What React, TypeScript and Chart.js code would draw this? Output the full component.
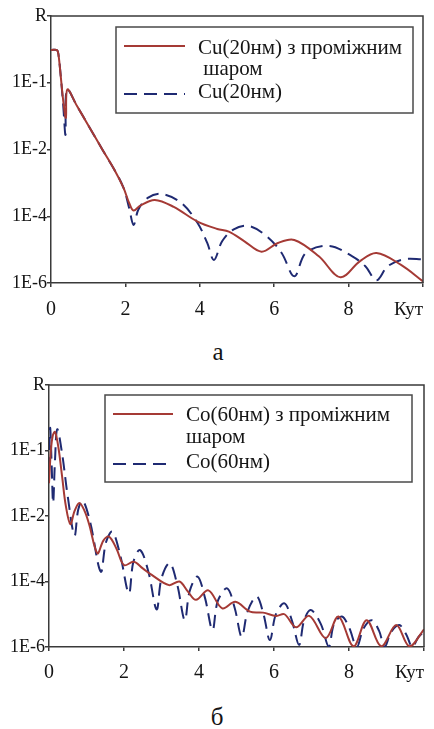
import React, { useEffect, useRef } from "react";
import { Chart, registerables } from "chart.js";

Chart.register(...registerables);

// ---------- DATA (angle in degrees, reflectivity as decade index) ----------
const cuLayerAngle = [0, 0.16, 0.2, 0.27, 0.33, 0.4, 0.44, 0.7, 1.0, 1.38, 1.7, 1.95, 2.1, 2.22, 2.4, 2.79, 3.3, 3.94, 4.47, 4.78, 5.2, 5.66, 6.1, 6.54, 7.2, 7.78, 8.3, 8.75, 9.4, 10];
const cuLayerLogR = [0.98, 0.98, 0.85, 0.1, -0.55, -1.05, -0.2, -0.7, -1.27, -2.0, -2.6, -3.15, -3.6, -3.83, -3.68, -3.51, -3.72, -4.16, -4.38, -4.46, -4.75, -5.06, -4.8, -4.71, -5.2, -5.83, -5.35, -5.1, -5.45, -5.95];

const cuAngle = [0, 0.16, 0.2, 0.27, 0.33, 0.39, 0.43, 0.7, 1.0, 1.38, 1.7, 1.95, 2.1, 2.22, 2.35, 2.6, 2.97, 3.5, 3.94, 4.2, 4.38, 4.6, 4.9, 5.31, 5.8, 6.2, 6.54, 6.85, 7.47, 8.1, 8.45, 8.75, 9.05, 9.5, 10];
const cuLogR = [0.98, 0.98, 0.85, 0.1, -0.7, -1.56, -0.2, -0.7, -1.27, -2.0, -2.6, -3.15, -3.75, -4.26, -3.8, -3.45, -3.33, -3.6, -4.2, -4.8, -5.31, -4.75, -4.4, -4.29, -4.6, -5.1, -5.8, -5.1, -4.89, -5.2, -5.5, -5.92, -5.5, -5.29, -5.29];

const coLayerAngle = [0, 0.05, 0.1, 0.16, 0.25, 0.35, 0.45, 0.57, 0.68, 0.81, 0.95, 1.07, 1.29, 1.45, 1.6, 1.8, 2.0, 2.26, 2.5, 2.74, 3.2, 3.48, 3.7, 3.92, 4.25, 4.62, 4.97, 5.36, 5.71, 6.06, 6.28, 6.59, 6.94, 7.38, 7.72, 8.12, 8.47, 8.86, 9.26, 9.61, 10];
const coLayerLogR = [-1.0, 0.0, 0.45, 0.57, 0.1, -0.8, -1.7, -2.25, -1.85, -1.6, -1.85, -2.25, -3.14, -2.75, -2.63, -3.0, -3.5, -3.4, -3.6, -3.8, -4.11, -4.0, -4.3, -4.56, -4.27, -4.82, -4.62, -4.92, -4.95, -5.05, -5.0, -5.4, -5.05, -5.73, -5.07, -5.98, -5.18, -5.98, -5.33, -5.98, -5.46];

const coAngle = [0, 0.03, 0.07, 0.11, 0.16, 0.22, 0.35, 0.5, 0.68, 0.78, 0.9, 1.1, 1.38, 1.52, 1.69, 1.9, 2.13, 2.25, 2.43, 2.65, 2.87, 3.0, 3.22, 3.42, 3.62, 3.75, 3.96, 4.16, 4.36, 4.5, 4.75, 4.95, 5.14, 5.3, 5.54, 5.72, 5.89, 6.05, 6.28, 6.48, 6.67, 6.8, 6.98, 7.25, 7.46, 7.6, 7.81, 8.0, 8.21, 8.38, 8.6, 8.8, 8.95, 9.12, 9.34, 9.52, 9.69, 9.85, 10];
const coLogR = [-0.6, 0.69, -0.4, -1.6, -0.3, 0.65, -0.1, -1.4, -2.6, -1.8, -1.53, -2.2, -3.7, -2.8, -2.48, -3.2, -4.36, -3.4, -3.04, -3.7, -4.85, -3.9, -3.44, -4.1, -5.18, -4.3, -3.85, -4.5, -5.48, -4.6, -4.21, -4.8, -5.69, -4.9, -4.46, -5.0, -5.79, -5.0, -4.67, -5.2, -5.94, -5.2, -4.87, -5.3, -5.99, -5.3, -5.07, -5.4, -6.0, -5.45, -5.18, -5.5, -6.0, -5.55, -5.33, -5.6, -6.0, -5.7, -5.53];

const yTickValues = [2, 0, -2, -4, -6];
const yTickLabels = ["R", "1E-1", "1E-2", "1E-4", "1E-6"];
const xAxisLabel = "Кут";

const cuLabels = ["Cu(20нм) з проміжним\n шаром", "Cu(20нм)"];
const coLabels = ["Co(60нм) з проміжним\nшаром", "Co(60нм)"];
const captions = ["а", "б"];

// ---------- STYLE ----------
const SERIF = "'Liberation Serif', 'Times New Roman', serif";
const RED = "#a53a35";
const BLUE = "#1f2a72";
const AXIS = "#3a3a3a";
const TEXT = "#151515";

const toPoints = (xs: number[], ys: number[]) => xs.map((x, i) => ({ x, y: ys[i] }));

const framePlugin = {
  id: "frameBox",
  afterDraw(chart: any) {
    const { ctx, chartArea } = chart;
    ctx.save();
    ctx.strokeStyle = AXIS;
    ctx.lineWidth = 1.5;
    ctx.beginPath();
    ctx.moveTo(chartArea.left, chartArea.top);
    ctx.lineTo(chartArea.right, chartArea.top);
    ctx.lineTo(chartArea.right, chartArea.bottom);
    ctx.stroke();
    ctx.restore();
  },
};

const boxLegendPlugin = {
  id: "boxLegend",
  afterDraw(chart: any, _args: any, opts: any) {
    const ctx = chart.ctx;
    ctx.save();
    ctx.fillStyle = "#ffffff";
    ctx.fillRect(opts.x, opts.y, opts.w, opts.h);
    ctx.strokeStyle = "#4a4a4a";
    ctx.lineWidth = 1.5;
    ctx.strokeRect(opts.x, opts.y, opts.w, opts.h);
    chart.data.datasets.forEach((ds: any, i: number) => {
      const sampleY = opts.sampleYs[i];
      const textY = opts.textYs[i];
      ctx.beginPath();
      ctx.strokeStyle = ds.borderColor;
      ctx.lineWidth = ds.borderWidth;
      ctx.setLineDash(ds.borderDash || []);
      ctx.moveTo(opts.sampleX1, sampleY);
      ctx.lineTo(opts.sampleX2, sampleY);
      ctx.stroke();
      ctx.setLineDash([]);
      ctx.fillStyle = TEXT;
      ctx.font = `${opts.fontSize}px ${SERIF}`;
      ctx.textBaseline = "middle";
      ctx.textAlign = "left";
      String(ds.label)
        .split("\n")
        .forEach((line: string, k: number) => ctx.fillText(line, opts.textX, textY + k * opts.lineHeight));
    });
    ctx.restore();
  },
};

function makeConfig(p: {
  layerX: number[]; layerY: number[]; plainX: number[]; plainY: number[]; labels: string[];
  padTop: number; padRight: number; yWidth: number; xHeight: number; xTickPad: number; titlePad: number; legend: any;
}): any {
  return {
    type: "line",
    data: {
      datasets: [
        { label: p.labels[0], data: toPoints(p.layerX, p.layerY), borderColor: RED, borderWidth: 2, pointRadius: 0, tension: 0.35, fill: false },
        { label: p.labels[1], data: toPoints(p.plainX, p.plainY), borderColor: BLUE, borderWidth: 2, borderDash: [13, 7], pointRadius: 0, tension: 0.35, fill: false },
      ],
    },
    options: {
      responsive: false,
      devicePixelRatio: 1,
      animation: false,
      layout: { padding: { top: p.padTop, right: p.padRight, left: 0, bottom: 0 } },
      plugins: { legend: { display: false }, tooltip: { enabled: false }, boxLegend: p.legend },
      scales: {
        x: {
          type: "linear",
          min: 0,
          max: 10,
          ticks: {
            stepSize: 2,
            autoSkip: false,
            maxRotation: 0,
            padding: p.xTickPad,
            color: TEXT,
            font: { family: SERIF, size: 20 },
            callback: (v: number) => (v === 10 ? "" : String(v)),
          },
          grid: { drawOnChartArea: false, drawTicks: true, tickLength: 4, color: AXIS, lineWidth: 1.5 },
          border: { display: true, color: AXIS, width: 1.5 },
          title: { display: true, text: xAxisLabel, align: "end", color: TEXT, font: { family: SERIF, size: 19 }, padding: { top: 0, bottom: p.titlePad } },
          afterFit: (s: any) => { s.height = p.xHeight; },
        },
        y: {
          type: "linear",
          min: -6,
          max: 2,
          ticks: {
            stepSize: 2,
            padding: 0,
            color: TEXT,
            font: { family: SERIF, size: 18 },
            callback: (v: number) => {
              const i = yTickValues.indexOf(v);
              return i >= 0 ? yTickLabels[i] : "";
            },
          },
          grid: { drawOnChartArea: false, drawTicks: true, tickLength: 4, color: AXIS, lineWidth: 1.5 },
          border: { display: true, color: AXIS, width: 1.5 },
          afterFit: (s: any) => { s.width = p.yWidth; },
        },
      },
    },
    plugins: [framePlugin, boxLegendPlugin],
  };
}

function ChartCanvas({ config, top, height }: { config: () => any; top: number; height: number }) {
  const ref = useRef<HTMLCanvasElement>(null);
  useEffect(() => {
    const chart = new Chart(ref.current as HTMLCanvasElement, config());
    return () => chart.destroy();
  }, []);
  return (
    <canvas
      ref={ref}
      width={434}
      height={height}
      style={{ position: "absolute", left: 0, top, width: 434, height, display: "block" }}
    />
  );
}

const cuConfig = () =>
  makeConfig({
    layerX: cuLayerAngle, layerY: cuLayerLogR, plainX: cuAngle, plainY: cuLogR, labels: cuLabels,
    padTop: 16, padRight: 5, yWidth: 51, xHeight: 47, xTickPad: 11, titlePad: 8.6,
    legend: { x: 116, y: 27, w: 297, h: 86, sampleX1: 124, sampleX2: 185, textX: 198, sampleYs: [46, 94], textYs: [48, 92], lineHeight: 21, fontSize: 21 },
  });

const coConfig = () =>
  makeConfig({
    layerX: coLayerAngle, layerY: coLayerLogR, plainX: coAngle, plainY: coLogR, labels: coLabels,
    padTop: 15, padRight: 4, yWidth: 49, xHeight: 53, xTickPad: 10, titlePad: 15.6,
    legend: { x: 105, y: 25, w: 307, h: 87, sampleX1: 113, sampleX2: 173, textX: 186, sampleYs: [44, 94], textYs: [45, 92], lineHeight: 22, fontSize: 21 },
  });

const captionStyle = (top: number, cx: number): React.CSSProperties => ({
  position: "absolute",
  left: cx - 50,
  top,
  width: 100,
  textAlign: "center",
  fontFamily: SERIF,
  fontSize: 25,
  lineHeight: "25px",
  color: TEXT,
});

export default function App() {
  return (
    <div style={{ position: "absolute", left: 0, top: 0, width: 434, height: 729, background: "#fff", overflow: "hidden" }}>
      <ChartCanvas config={cuConfig} top={0} height={330} />
      <div style={captionStyle(339, 218)}>{captions[0]}</div>
      <ChartCanvas config={coConfig} top={370} height={330} />
      <div style={captionStyle(704, 217)}>{captions[1]}</div>
    </div>
  );
}
